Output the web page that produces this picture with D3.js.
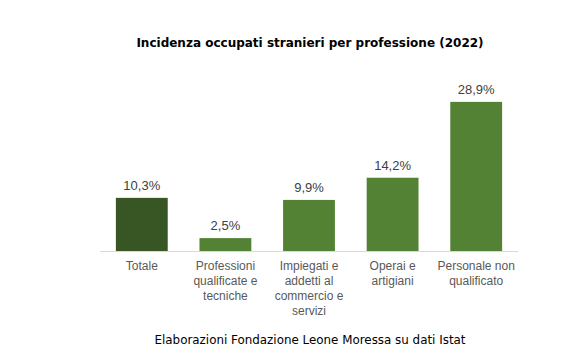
<!DOCTYPE html>
<html><head><meta charset="utf-8">
<script src="https://cdn.jsdelivr.net/npm/d3@7"></script>
<style>body{margin:0;background:#fff}</style>
</head><body>
<svg id="c" width="574" height="360"></svg>
<script>
const categories = ["Totale", "Professioni qualificate e tecniche", "Impiegati e addetti al commercio e servizi", "Operai e artigiani", "Personale non qualificato"];
const categoryLines = [["Totale"], ["Professioni", "qualificate e", "tecniche"], ["Impiegati e", "addetti al", "commercio e", "servizi"], ["Operai e", "artigiani"], ["Personale non", "qualificato"]];
const values = [10.3, 2.5, 9.9, 14.2, 28.9];
const valueLabels = ["10,3%", "2,5%", "9,9%", "14,2%", "28,9%"];
const title = "Incidenza occupati stranieri per professione (2022)";
const source = "Elaborazioni Fondazione Leone Moressa su dati Istat";

const svg = d3.select("#c");
svg.append("rect").attr("width",574).attr("height",360).attr("fill","#fff");
const x = d3.scaleBand().domain(categories).range([100, 518]).paddingInner(0.38).paddingOuter(0.19);
const y = d3.scaleLinear().domain([0, 30]).range([251, 251 - 30*5.16]);

svg.append("text").attr("x", 310).attr("y", 47).attr("text-anchor","middle")
  .attr("font-family","Verdana, 'DejaVu Sans', sans-serif").attr("font-weight","bold").attr("font-size",12)
  .attr("fill","#000").text(title);

svg.selectAll("rect.bar").data(values).enter().append("rect").attr("class","bar")
  .attr("x",(d,i)=>x(categories[i])).attr("width",x.bandwidth())
  .attr("y",d=>y(d)).attr("height",d=>y(0)-y(d))
  .attr("fill",(d,i)=>i===0?"#375623":"#548235");

svg.append("line").attr("x1",100).attr("x2",518).attr("y1",y(0)+0.5).attr("y2",y(0)+0.5)
  .attr("stroke","#d9d9d9").attr("stroke-width",1);

svg.selectAll("text.val").data(values).enter().append("text").attr("class","val")
  .attr("x",(d,i)=>x(categories[i])+x.bandwidth()/2).attr("y",d=>y(d)-8)
  .attr("text-anchor","middle").attr("font-family","Arial, 'Liberation Sans', sans-serif")
  .attr("font-size",13).attr("fill","#404040").text((d,i)=>valueLabels[i]);

const g = svg.selectAll("text.cat").data(categoryLines).enter().append("text").attr("class","cat")
  .attr("text-anchor","middle").attr("font-family","Arial, 'Liberation Sans', sans-serif")
  .attr("font-size",12).attr("fill","#595959");
g.each(function(lines,i){
  const t = d3.select(this);
  lines.forEach((l,j)=>{
    t.append("tspan").attr("x", x(categories[i])+x.bandwidth()/2).attr("y", 270+j*15).text(l);
  });
});

svg.append("text").attr("x", 310).attr("y", 344).attr("text-anchor","middle")
  .attr("font-family","Verdana, 'DejaVu Sans', sans-serif").attr("font-size",11.9)
  .attr("fill","#000").text(source);
</script>
</body></html>
